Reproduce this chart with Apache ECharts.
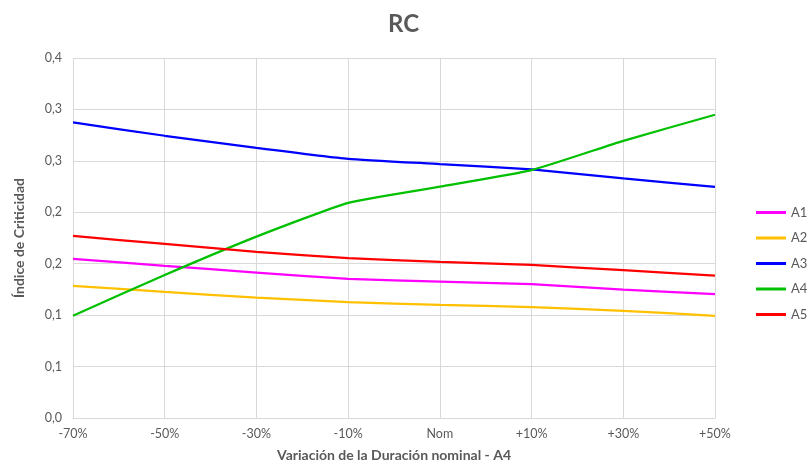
<!DOCTYPE html>
<html><head><meta charset="utf-8">
<script src="https://cdn.jsdelivr.net/npm/echarts@6/dist/echarts.min.js"></script>
<style>html,body{margin:0;padding:0;background:#fff}#c{width:807px;height:471px}</style>
</head><body><div id="c"></div>
<script>
const categories = ['-70%','-50%','-30%','-10%','Nom','+10%','+30%','+50%'];
const A1 = [0.1547, 0.1479, 0.1414, 0.1352, 0.1326, 0.1301, 0.1249, 0.1204];
const A2 = [0.1285, 0.1226, 0.1171, 0.1126, 0.1100, 0.1078, 0.1042, 0.0993];
const A3 = [0.2874, 0.2744, 0.2627, 0.2520, 0.2469, 0.2417, 0.2330, 0.2246];
const A4 = [0.0995, 0.1390, 0.1763, 0.2092, 0.2249, 0.2410, 0.2695, 0.2948];
const A5 = [0.1770, 0.1692, 0.1615, 0.1555, 0.1518, 0.1488, 0.1437, 0.1385];
const yTickLabels = ['0,0','0,1','0,1','0,2','0,2','0,3','0,3','0,4'];
const seriesNames = ['A1','A2','A3','A4','A5'];
const colors = ['#FF00FF','#FFC000','#0000FF','#00C000','#FF0000'];
const seriesData = [A1,A2,A3,A4,A5];
const font = 'Lato, "Open Sans", sans-serif';
const chart = echarts.init(document.getElementById('c'));
chart.setOption({
  animation:false,
  title:{text:'RC',left:'center',top:7,textStyle:{fontFamily:font,fontSize:24,fontWeight:'bold',color:'#595959'}},
  legend:{orient:'vertical',left:756,top:206,padding:0,itemWidth:30,itemHeight:3,itemGap:12.5,
    icon:'rect',textStyle:{fontFamily:font,fontSize:13,color:'#595959'},
    data:seriesNames},
  grid:{left:73,right:92,top:58,bottom:53},
  xAxis:{type:'category',data:categories,boundaryGap:false,
    name:'Variación de la Duración nominal - A4',nameLocation:'middle',nameGap:30,
    nameTextStyle:{fontFamily:font,fontSize:14,fontWeight:'bold',color:'#595959'},
    axisLine:{lineStyle:{color:'#d9d9d9',width:1}},axisTick:{show:false},
    axisLabel:{fontFamily:font,fontSize:12.5,color:'#595959',margin:9},
    splitLine:{show:true,lineStyle:{color:'#d9d9d9',width:1}}},
  yAxis:{type:'value',min:0,max:0.35,interval:0.05,
    name:'Índice de Criticidad',nameLocation:'middle',nameGap:47,
    nameTextStyle:{fontFamily:font,fontSize:14,fontWeight:'bold',color:'#595959'},
    axisLine:{show:false},axisTick:{show:false},
    axisLabel:{fontFamily:font,fontSize:12.5,color:'#595959',margin:11,
      formatter:v=>yTickLabels[Math.round(v/0.05)]},
    splitLine:{lineStyle:{color:'#d9d9d9',width:1}}},
  series:seriesNames.map((n,i)=>({name:n,type:'line',data:seriesData[i],smooth:0.15,
    showSymbol:false,symbol:'none',lineStyle:{color:colors[i],width:2.25},itemStyle:{color:colors[i]}}))
});
</script></body></html>
